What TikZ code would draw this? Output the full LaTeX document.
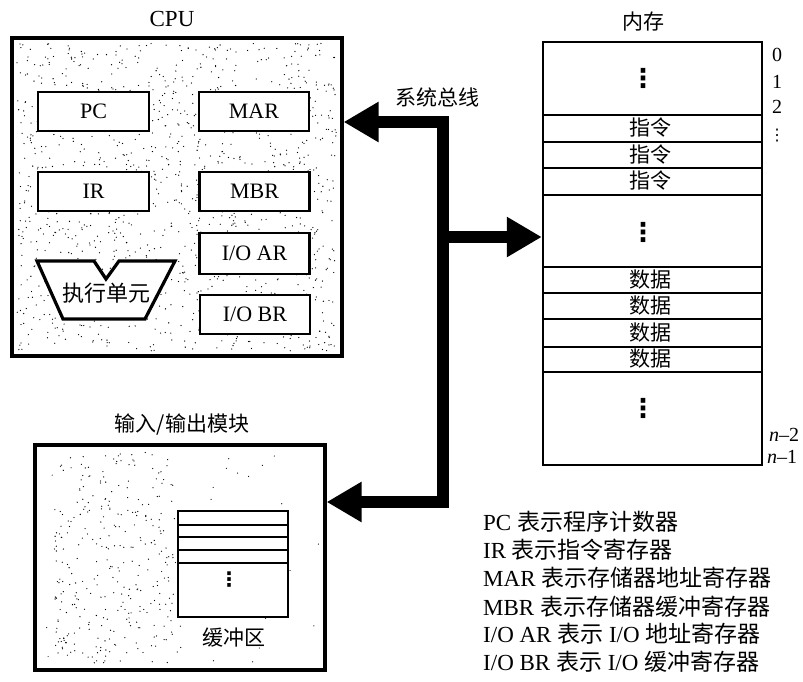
\documentclass[tikz,border=0pt]{standalone}
\usepackage{fontspec}
\setmainfont{Liberation Serif}
\newfontfamily\cjk{Noto Sans CJK SC}
\newfontfamily\dv{DejaVu Sans}
\usetikzlibrary{arrows.meta}
\tikzset{bushead/.tip={Triangle[length=35pt 0 0, width=38pt 0 0]}}
\begin{document}
\begin{tikzpicture}[x=1pt,y=-1pt,
  outerbox/.style={draw, line width=3.2pt, inner sep=0pt},
  reg/.style={draw, line width=2.8pt, fill=white, minimum width=110pt, minimum height=39pt, inner sep=0pt, font=\fontsize{22}{24}\selectfont},
  lab/.style={inner sep=0pt, font=\fontsize{23}{26}\selectfont},
  cjlab/.style={inner sep=0pt, font=\cjk\fontsize{21}{24}\selectfont},
  cell/.style={inner sep=0pt, font=\cjk\fontsize{21}{22}\selectfont},
  idx/.style={inner sep=0pt, font=\fontsize{20}{22}\selectfont},
  vd/.style={inner sep=0pt, font=\dv\bfseries\fontsize{26}{28}\selectfont},
  legend/.style={anchor=west, inner sep=0pt, font=\fontsize{23}{26}\selectfont},
  memline/.style={line width=2.4pt},
  bus/.style={line width=12pt, line join=miter},
  speck/.style={fill=black}
]
\useasboundingbox (0,0) rectangle (803,681);

% ---------- CPU ----------
\node[lab] (cputitle) at (172,19) {CPU};
\node[outerbox, minimum width=330pt, minimum height=318pt] (cpu) at (177,197) {};
\pgfmathsetseed{11}
\foreach \i in {1,...,1300}{
  \pgfmathsetmacro\px{17+320*rnd}
  \pgfmathsetmacro\py{43+308*rnd}
  \fill[speck] (\px,\py) circle (0.65);
}
\node[reg, minimum width=111pt] (pc)  at (93.5,111.5) {PC};
\node[reg] (mar) at (254,111.5) {MAR};
\node[reg, minimum width=111pt] (ir)  at (93.5,191.5) {IR};
\node[reg] (mbr) at (254.5,191.5) {MBR};
\node[reg, minimum height=41pt] (ioar) at (254.5,253.5) {I/O AR};
\node[reg] (iobr) at (255,314.5) {I/O BR};
\draw[line width=3.2pt, fill=white, line join=miter]
  (37,261) -- (94,261) -- (106,279) -- (119,261) -- (175,261) -- (145,319) -- (63,319) -- cycle;
\node[inner sep=0pt, font=\cjk\fontsize{22}{24}\selectfont] (eu) at (106,293) {执行单元};

% ---------- Memory ----------
\node[cjlab] (memtitle) at (643,22) {内存};
\node[draw, line width=2.4pt, minimum width=219pt, minimum height=423pt, inner sep=0pt] (mem) at (652.5,253.5) {};
\foreach \y in {115,142,168,195,267,293,319,347,372}{
  \draw[memline] (543,\y) -- (762,\y);
}
\node[vd] (d1) at (643,78) {⋮};
\node[cell] (i1) at (650,128) {指令};
\node[cell] (i2) at (650,155) {指令};
\node[cell] (i3) at (650,181) {指令};
\node[vd] (d2) at (643,232) {⋮};
\node[cell] (s1) at (650,280) {数据};
\node[cell] (s2) at (650,306) {数据};
\node[cell] (s3) at (650,333) {数据};
\node[cell] (s4) at (650,359) {数据};
\node[vd] (d3) at (643,408) {⋮};
\node[idx] (a0) at (777,55) {0};
\node[idx] (a1) at (777,82) {1};
\node[idx] (a2) at (777,107) {2};
\node[vd, font=\dv\fontsize{16}{18}\selectfont] (a3) at (777,136) {⋮};
\node[idx] (an2) at (784,435) {\itshape n\upshape\textendash2};
\node[idx] (an1) at (782,457) {\itshape n\upshape\textendash1};

% ---------- I/O module ----------
\node[cjlab] (iotitle) at (182,425) {输入/输出模块};
\node[outerbox, minimum width=290pt, minimum height=225pt] (io) at (180,557.5) {};
\pgfmathsetseed{23}
\foreach \i in {1,...,280}{
  \pgfmathsetmacro\px{55+120*rnd}
  \pgfmathsetmacro\py{452+212*rnd}
  \fill[speck] (\px,\py) circle (0.65);
}
\foreach \i in {1,...,80}{
  \pgfmathsetmacro\px{40+280*rnd}
  \pgfmathsetmacro\py{450+216*rnd}
  \fill[speck] (\px,\py) circle (0.6);
}
\node[draw, line width=2.4pt, fill=white, minimum width=110pt, minimum height=106pt, inner sep=0pt] (buf) at (233,564) {};
\foreach \y in {525,537,550,563}{
  \draw[memline] (178,\y) -- (288,\y);
}
\node[vd, font=\dv\bfseries\fontsize{20}{22}\selectfont] (d4) at (229,580) {⋮};
\node[cjlab] (buflab) at (234,638) {缓冲区};

% ---------- System bus ----------
\node[cjlab] (buslab) at (437,97) {系统总线};
\coordinate (jt) at (443,122);
\coordinate (jm) at (443,237);
\coordinate (jb) at (443,502);
\draw[bus, {bushead}-{bushead}] (jt -| cpu.east) -- (jt) -- (jb) -- (jb -| io.east);
\draw[bus, -{bushead}] (jm) -- (jm -| mem.west);

% ---------- Legend ----------
\node[legend] (l1) at (483,522) {PC {\cjk 表示程序计数器}};
\node[legend] (l2) at (483,550) {IR {\cjk 表示指令寄存器}};
\node[legend] (l3) at (483,578) {MAR {\cjk 表示存储器地址寄存器}};
\node[legend] (l4) at (483,607) {MBR {\cjk 表示存储器缓冲寄存器}};
\node[legend] (l5) at (483,634) {I/O AR {\cjk 表示} I/O {\cjk 地址寄存器}};
\node[legend] (l6) at (483,662) {I/O BR {\cjk 表示} I/O {\cjk 缓冲寄存器}};
\end{tikzpicture}
\end{document}
